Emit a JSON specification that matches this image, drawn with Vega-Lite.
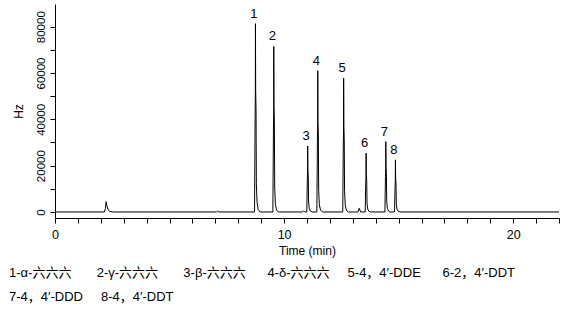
{
  "$schema": "https://vega.github.io/schema/vega-lite/v6.json",
  "width": 504,
  "height": 214,
  "autosize": {"type": "none"},
  "padding": {"left": 55, "top": 4, "right": 16, "bottom": 98},
  "background": "white",
  "title": {
    "text": [
      "1-α-六六六\u00a0\u00a0\u00a0\u00a0\u00a0\u00a0\u00a02-γ-六六六\u00a0\u00a0\u00a0\u00a0\u00a0\u00a0\u00a03-β-六六六\u00a0\u00a0\u00a0\u00a0\u00a0\u00a04-δ-六六六\u00a0\u00a0\u00a0\u00a0\u00a05-4，4′-DDE\u00a0\u00a0\u00a0\u00a0\u00a0\u00a06-2，4′-DDT",
      "7-4，4′-DDD\u00a0\u00a0\u00a0\u00a0\u00a08-4，4′-DDT"
    ],
    "orient": "bottom",
    "anchor": "start",
    "frame": "group",
    "dx": -46,
    "offset": 10,
    "font": "Liberation Sans, Noto Sans CJK SC",
    "fontSize": 13,
    "fontWeight": "normal",
    "lineHeight": 24,
    "color": "#000000",
    "baseline": "top"
  },
  "datasets": {
    "trace": [
      {"t": 0, "v": 0}, {"t": 2.15, "v": 0}, {"t": 2.2, "v": 1500}, {"t": 2.23, "v": 4450}, {"t": 2.27, "v": 2500}, {"t": 2.32, "v": 900}, {"t": 2.4, "v": 200}, {"t": 2.55, "v": 0},
      {"t": 7.05, "v": 0}, {"t": 7.1, "v": 400}, {"t": 7.15, "v": 0},
      {"t": 8.71, "v": 0}, {"t": 8.735, "v": 40700}, {"t": 8.745, "v": 50400}, {"t": 8.75, "v": 81300}, {"t": 8.76, "v": 52000}, {"t": 8.775, "v": 44700}, {"t": 8.79, "v": 12200}, {"t": 8.82, "v": 4100}, {"t": 8.87, "v": 1000}, {"t": 8.95, "v": 0},
      {"t": 9.51, "v": 0}, {"t": 9.535, "v": 35800}, {"t": 9.545, "v": 44300}, {"t": 9.55, "v": 71500}, {"t": 9.56, "v": 45800}, {"t": 9.575, "v": 39300}, {"t": 9.59, "v": 10700}, {"t": 9.62, "v": 3600}, {"t": 9.67, "v": 900}, {"t": 9.75, "v": 0},
      {"t": 10.8, "v": 0}, {"t": 10.85, "v": 500}, {"t": 10.9, "v": 0},
      {"t": 10.99, "v": 0}, {"t": 11.015, "v": 14300}, {"t": 11.025, "v": 17700}, {"t": 11.03, "v": 28500}, {"t": 11.04, "v": 18200}, {"t": 11.055, "v": 15700}, {"t": 11.07, "v": 4300}, {"t": 11.1, "v": 1400}, {"t": 11.15, "v": 400}, {"t": 11.22, "v": 0},
      {"t": 11.43, "v": 0}, {"t": 11.455, "v": 30500}, {"t": 11.465, "v": 37800}, {"t": 11.47, "v": 61000}, {"t": 11.48, "v": 39000}, {"t": 11.495, "v": 33600}, {"t": 11.51, "v": 9200}, {"t": 11.54, "v": 3100}, {"t": 11.59, "v": 800}, {"t": 11.67, "v": 0},
      {"t": 12.56, "v": 0}, {"t": 12.585, "v": 28900}, {"t": 12.595, "v": 35800}, {"t": 12.6, "v": 57800}, {"t": 12.61, "v": 37000}, {"t": 12.625, "v": 31800}, {"t": 12.64, "v": 8700}, {"t": 12.67, "v": 2900}, {"t": 12.72, "v": 700}, {"t": 12.8, "v": 0},
      {"t": 13.22, "v": 0}, {"t": 13.28, "v": 1600}, {"t": 13.34, "v": 0},
      {"t": 13.54, "v": 0}, {"t": 13.565, "v": 12700}, {"t": 13.575, "v": 15700}, {"t": 13.58, "v": 25400}, {"t": 13.59, "v": 16300}, {"t": 13.605, "v": 14000}, {"t": 13.62, "v": 3800}, {"t": 13.65, "v": 1300}, {"t": 13.7, "v": 300}, {"t": 13.78, "v": 0},
      {"t": 14.4, "v": 0}, {"t": 14.425, "v": 15200}, {"t": 14.435, "v": 18800}, {"t": 14.44, "v": 30400}, {"t": 14.45, "v": 19500}, {"t": 14.465, "v": 16700}, {"t": 14.48, "v": 4600}, {"t": 14.51, "v": 1500}, {"t": 14.56, "v": 400}, {"t": 14.62, "v": 0},
      {"t": 14.82, "v": 0}, {"t": 14.845, "v": 11300}, {"t": 14.855, "v": 14000}, {"t": 14.86, "v": 22500}, {"t": 14.87, "v": 14400}, {"t": 14.885, "v": 12400}, {"t": 14.9, "v": 3400}, {"t": 14.93, "v": 1100}, {"t": 14.98, "v": 300}, {"t": 15.06, "v": 0},
      {"t": 22, "v": 0}
    ],
    "peaks": [
      {"n": "1", "t": 8.75, "v": 81300},
      {"n": "2", "t": 9.55, "v": 71500},
      {"n": "3", "t": 11.03, "v": 28500},
      {"n": "4", "t": 11.47, "v": 61000},
      {"n": "5", "t": 12.6, "v": 57800},
      {"n": "6", "t": 13.58, "v": 25400},
      {"n": "7", "t": 14.44, "v": 30400},
      {"n": "8", "t": 14.86, "v": 22500}
    ]
  },
  "encoding": {
    "x": {
      "field": "t", "type": "quantitative",
      "scale": {"domain": [0, 22], "nice": false, "zero": false},
      "axis": {
        "title": "Time (min)",
        "values": [0,1,2,3,4,5,6,7,8,9,10,11,12,13,14,15,16,17,18,19,20,21,22],
        "labelExpr": "datum.value % 10 == 0 ? datum.label : ''",
        "format": "d",
        "grid": false,
        "tickSize": 5,
        "labelPadding": 5,
        "labelFontSize": 12.5,
        "titleFontSize": 12,
        "titlePadding": 5,
        "labelFlush": false,
        "labelOverlap": false
      }
    },
    "y": {
      "field": "v", "type": "quantitative",
      "scale": {"domain": [-2600, 89800], "nice": false, "zero": false},
      "axis": {
        "title": "Hz",
        "values": [0, 10000, 20000, 30000, 40000, 50000, 60000, 70000, 80000],
        "labelExpr": "datum.value % 20000 == 0 ? datum.label : ''",
        "format": "d",
        "grid": false,
        "tickSize": 5,
        "labelAngle": 270,
        "labelAlign": "center",
        "labelBaseline": "bottom",
        "labelPadding": 4,
        "labelFont": "Liberation Sans Narrow, Liberation Sans",
        "labelFontSize": 11.5,
        "titleFont": "Liberation Sans Narrow, Liberation Sans",
        "titleFontSize": 12,
        "titlePadding": 10,
        "labelOverlap": false
      }
    }
  },
  "layer": [
    {
      "data": {"name": "trace"},
      "mark": {"type": "line", "color": "#000000", "strokeWidth": 1, "interpolate": "linear"}
    },
    {
      "data": {"name": "peaks"},
      "mark": {"type": "text", "font": "Liberation Sans", "fontSize": 13, "baseline": "alphabetic", "dy": -6, "dx": -1.5, "color": "#000000"},
      "encoding": {"text": {"field": "n", "type": "nominal"}}
    }
  ],
  "config": {
    "view": {"stroke": null},
    "axis": {
      "domainColor": "#000000",
      "tickColor": "#000000",
      "labelColor": "#000000",
      "titleColor": "#000000",
      "labelFont": "Liberation Sans",
      "titleFont": "Liberation Sans",
      "titleFontWeight": "normal"
    }
  }
}
